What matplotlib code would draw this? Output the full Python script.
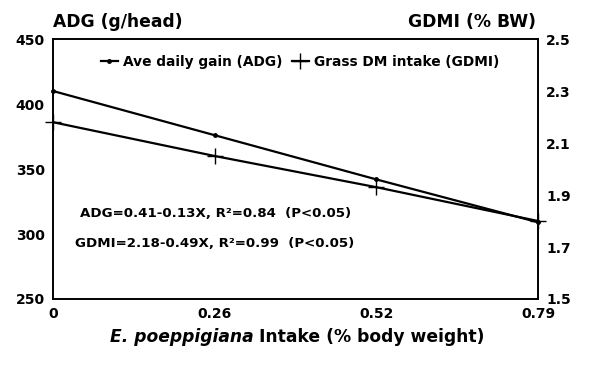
import matplotlib
matplotlib.use("Agg")
import matplotlib.pyplot as plt

x_labels = ["0", "0.26", "0.52", "0.79"]
adg = [410, 376, 342, 309]          # g/head, left axis
gdmi = [2.18, 2.05, 1.93, 1.80]     # % BW, right axis
left_ticks = [250, 300, 350, 400, 450]
right_ticks = [1.5, 1.7, 1.9, 2.1, 2.3, 2.5]

plt.rcParams['font.family'] = ['DejaVu Sans']
plt.rcParams['font.weight'] = 'bold'

fig = plt.figure(figsize=(6, 3.68), dpi=100)
ax = fig.add_axes([0.0883, 0.1875, 0.8084, 0.7065])
ax2 = ax.twinx()

xs = list(range(len(x_labels)))
l1, = ax.plot(xs, adg, color='black', lw=1.6, marker='o', ms=2.5,
              label='Ave daily gain (ADG)', clip_on=False)
l2, = ax2.plot(xs, gdmi, color='black', lw=1.6, marker='+', ms=11, mew=1.0,
               label='Grass DM intake (GDMI)', clip_on=False)

ax.set_xlim(0, 3)
ax.set_ylim(250, 450)
ax2.set_ylim(1.5, 2.5)
ax.set_xticks(xs)
ax.set_xticklabels(x_labels)
ax.set_yticks(left_ticks)
ax2.set_yticks(right_ticks)
ax2.set_yticklabels([f"{v:.1f}" for v in right_ticks])
for a in (ax, ax2):
    a.tick_params(length=0, labelsize=10, pad=6)
    for s in a.spines.values():
        s.set_linewidth(1.2)

fig.text(0.088, 0.94, "ADG (g/head)", fontsize=12.3, fontweight='bold', ha='left', va='center')
fig.text(0.893, 0.94, "GDMI (% BW)", fontsize=12.3, fontweight='bold', ha='right', va='center')

leg = ax.legend(handles=[l1, l2], loc='upper center', bbox_to_anchor=(0.51, 0.985),
                ncol=2, frameon=False, fontsize=9.9, handlelength=1.2,
                handletextpad=0.4, columnspacing=0.7)

ax.text(0.056, 0.327, "ADG=0.41-0.13X, R²=0.84  (P<0.05)", transform=ax.transAxes,
        fontsize=9.6, fontweight='bold', ha='left', va='center')
ax.text(0.045, 0.215, "GDMI=2.18-0.49X, R²=0.99  (P<0.05)", transform=ax.transAxes,
        fontsize=9.6, fontweight='bold', ha='left', va='center')

t1 = fig.text(0.183, 0.083, "E. poeppigiana", fontsize=12.3, fontweight='bold',
              fontstyle='italic', ha='left', va='center')
ax.annotate(" Intake (% body weight)", xy=(1, 0.5), xycoords=t1, va='center', ha='left',
            fontsize=12.3, fontweight='bold')

fig.savefig("out.png", dpi=100)
